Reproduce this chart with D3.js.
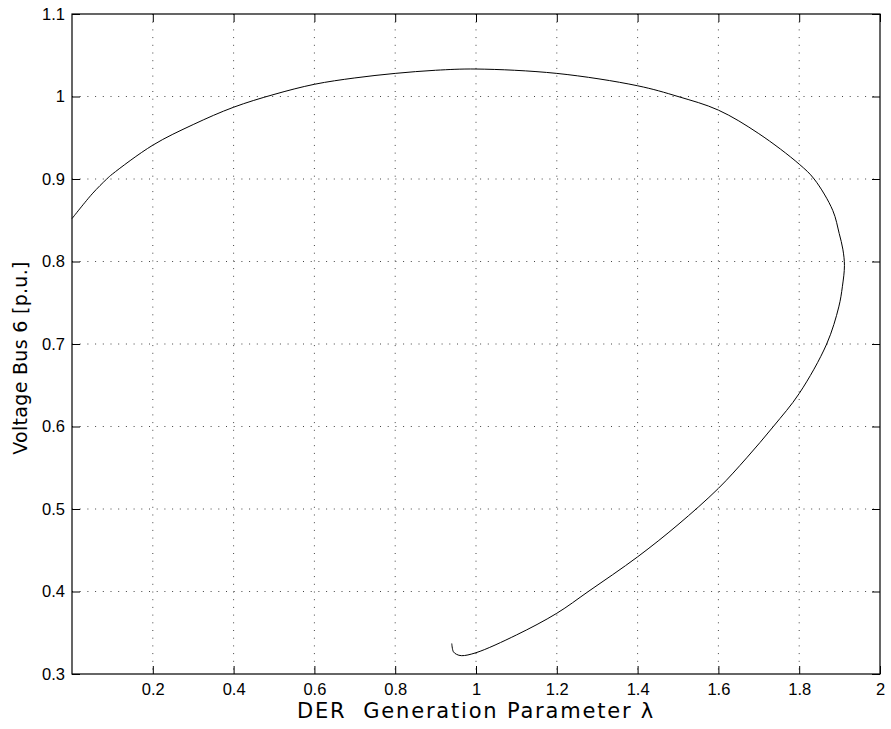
<!DOCTYPE html>
<html>
<head>
<meta charset="utf-8">
<script src="https://cdn.jsdelivr.net/npm/d3@7"></script>
<style>
  body { margin: 0; background: #fff; }
  .label { font-family: "DejaVu Sans", sans-serif; font-size: 19px; fill: #000; white-space: pre; }
</style>
</head>
<body>
<div id="chart"></div>
<script>
// ── DATA (in order along the curve) ────
const lambdaValues = [
  0.000, 0.050, 0.086, 0.100, 0.200, 0.300, 0.400, 0.500, 0.600, 0.700,
  0.800, 0.900, 1.000, 1.200, 1.400, 1.500, 1.600, 1.700, 1.800, 1.837,
  1.883, 1.899, 1.908, 1.912, 1.907, 1.898, 1.868, 1.800, 1.736, 1.670,
  1.600, 1.500, 1.400, 1.278, 1.200, 1.100, 1.000, 0.9645, 0.952, 0.944,
  0.940
];
const voltageValues = [
  0.852, 0.882, 0.900, 0.906, 0.941, 0.966, 0.987, 1.0025, 1.0148, 1.0225,
  1.028, 1.0318, 1.0333, 1.028, 1.013, 1.000, 0.9835, 0.955, 0.918, 0.900,
  0.862, 0.834, 0.815, 0.795, 0.770, 0.745, 0.700, 0.640, 0.600, 0.562,
  0.525, 0.481, 0.442, 0.400, 0.3736, 0.3473, 0.3258, 0.3222, 0.3238, 0.327,
  0.337
];
const xTicks = [0.2, 0.4, 0.6, 0.8, 1, 1.2, 1.4, 1.6, 1.8, 2];
const yTicks = [0.3, 0.4, 0.5, 0.6, 0.7, 0.8, 0.9, 1, 1.1];
const xLabel = "DER  Generation Parameter λ";
const yLabel = "Voltage Bus 6 [p.u.]";

// ── DIMENSIONS ─────────────────────────────────────────────────
const W = 891, H = 729;
const margin = { top: 14, right: 11, bottom: 55, left: 72 };
const width  = W - margin.left - margin.right;
const height = H - margin.top - margin.bottom;

const svg = d3.select("#chart").append("svg")
    .attr("width", W).attr("height", H)
  .append("g")
    .attr("transform", `translate(${margin.left},${margin.top})`);

// ── SCALES ─────────────────────────────────────────────────────
const x = d3.scaleLinear().domain([0, 2]).range([0, width]);
const y = d3.scaleLinear().domain([0.3, 1.1]).range([height, 0]);

// ── GRID (dotted) ──────────────────────────────────────────────
const grid = svg.append("g")
  .attr("stroke", "#444").attr("stroke-width", 1)
  .attr("stroke-dasharray", "1,6.7");
grid.selectAll(".vg").data(xTicks.filter(d => d < 2)).join("line")
  .attr("x1", d => x(d)).attr("x2", d => x(d))
  .attr("y1", 0).attr("y2", height);
grid.selectAll(".hg").data(yTicks.filter(d => d > 0.3 && d < 1.1)).join("line")
  .attr("x1", 0).attr("x2", width)
  .attr("y1", d => y(d)).attr("y2", d => y(d));

// ── AXES (ticks inside, box on) ────────────────────────────────
const fmt = d => String(d);
const tickLen = 8;
const axes = [
  svg.append("g").attr("transform", `translate(0,${height})`)
    .call(d3.axisBottom(x).tickValues(xTicks).tickSizeInner(-tickLen).tickSizeOuter(0).tickPadding(9).tickFormat(fmt)),
  svg.append("g")
    .call(d3.axisTop(x).tickValues(xTicks).tickSizeInner(-tickLen).tickSizeOuter(0).tickFormat("")),
  svg.append("g")
    .call(d3.axisLeft(y).tickValues(yTicks).tickSizeInner(-tickLen).tickSizeOuter(0).tickPadding(7).tickFormat(fmt)),
  svg.append("g").attr("transform", `translate(${width},0)`)
    .call(d3.axisRight(y).tickValues(yTicks).tickSizeInner(-tickLen).tickSizeOuter(0).tickFormat(""))
];
axes.forEach(a => a
  .attr("font-family", "'Liberation Sans', Arial, sans-serif")
  .attr("font-size", 16.5));
svg.selectAll(".domain").remove();
svg.selectAll(".tick line").attr("stroke", "#000");
svg.selectAll(".tick text").attr("fill", "#000");

svg.append("rect")
  .attr("width", width).attr("height", height)
  .attr("fill", "none").attr("stroke", "#000").attr("stroke-width", 1.2);

// ── CURVE ──────────────────────────────────────────────────────
const pts = lambdaValues.map((l, i) => [l, voltageValues[i]]);
const line = d3.line()
  .x(d => x(d[0])).y(d => y(d[1]))
  .curve(d3.curveCatmullRom.alpha(0.5));
svg.append("path")
  .datum(pts)
  .attr("d", line)
  .attr("fill", "none").attr("stroke", "#000").attr("stroke-width", 1);

// ── LABELS ─────────────────────────────────────────────────────
svg.append("text").attr("class", "label")
  .attr("x", width / 2).attr("y", height + 44)
  .attr("text-anchor", "middle")
  .style("font-size", "21px").style("letter-spacing", "1.8px")
  .text(xLabel);
svg.append("text").attr("class", "label")
  .attr("transform", "rotate(-90)")
  .attr("x", -344).attr("y", -45)
  .attr("text-anchor", "middle")
  .style("letter-spacing", "0.3px")
  .text(yLabel);
</script>
</body>
</html>
